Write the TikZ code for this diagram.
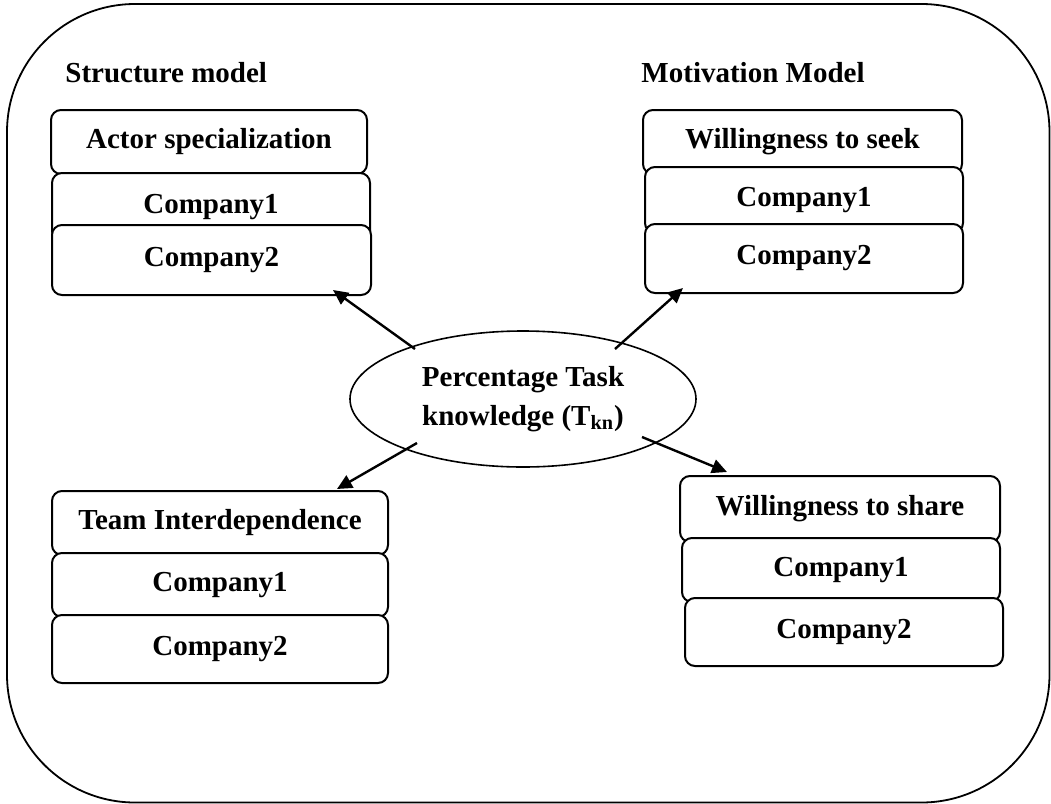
\documentclass[tikz,border=0pt]{standalone}
\usepackage{fontspec}
\setmainfont{Liberation Serif}
\usetikzlibrary{shapes.geometric,arrows.meta}

\tikzset{
  txt/.style={font=\fontsize{14.5}{17}\selectfont\bfseries},
  box/.style={txt, draw, line width=1pt, rounded corners=5pt, fill=white, inner sep=0pt},
  grouptitle/.style={txt, inner sep=0pt},
  link/.style={line width=1.2pt, -{Triangle[length=7.5pt,width=7pt]}},
}

\begin{document}
\begin{tikzpicture}[x=0.5pt,y=-0.5pt]
    \useasboundingbox (0,0) rectangle (1051,804);
    % outer frame
    \draw[line width=0.9pt, rounded corners=64pt] (7,4) rectangle (1049.5,802.5);

    % structure model
    \node[grouptitle, anchor=west] (stitle) at (65,73) {Structure model};
    \node[box, minimum width=158pt, minimum height=32pt] (as1) at (209,142) {Actor specialization};
    \node[box, minimum width=159pt, minimum height=34pt] (as2) at (211,207) {Company1};
    \node[box, minimum width=159.5pt, minimum height=35pt] (as3) at (211.5,260) {Company2};

    % motivation model
    \node[grouptitle, anchor=east] (mtitle) at (865,73) {Motivation Model};
    \node[box, minimum width=159.5pt, minimum height=32pt] (ms1) at (802.5,142) {Willingness to seek};
    \node[box, minimum width=159pt, minimum height=33pt] (ms2) at (804,200) {Company1};
    \node[box, minimum width=159pt, minimum height=34.5pt] (ms3) at (804,258.5) {Company2};

    \node[box, minimum width=168pt, minimum height=32pt] (ti1) at (220,523) {Team Interdependence};
    \node[box, minimum width=168pt, minimum height=32pt] (ti2) at (220,585) {Company1};
    \node[box, minimum width=168pt, minimum height=34pt] (ti3) at (220,649) {Company2};

    \node[box, minimum width=160pt, minimum height=33pt] (ws1) at (840,509) {Willingness to share};
    \node[box, minimum width=159pt, minimum height=32pt] (ws2) at (841,570) {Company1};
    \node[box, minimum width=159pt, minimum height=34pt] (ws3) at (844,632) {Company2};

    % central ellipse
    \node[txt, draw, ellipse, line width=0.8pt, inner sep=0pt, minimum width=173pt,
          minimum height=68pt, align=center] (tk) at (523,399)
          {Percentage Task\\[2.6pt] knowledge (T\textsubscript{kn})};

    \draw[link] ([xshift=-54pt,yshift=25pt]tk.center) -- ([xshift=60.75pt,yshift=3pt]as3.south);
    \draw[link] ([xshift=46pt,yshift=25pt]tk.center) -- ([xshift=-60.5pt,yshift=3pt]ms3.south);
    \draw[link] ([xshift=-53pt,yshift=-22pt]tk.center) -- ([xshift=58.5pt,yshift=0.5pt]ti1.north);
    \draw[link] ([xshift=59.5pt,yshift=-19pt]tk.center) -- ([xshift=-56.5pt,yshift=1.5pt]ws1.north);
\end{tikzpicture}
\end{document}
